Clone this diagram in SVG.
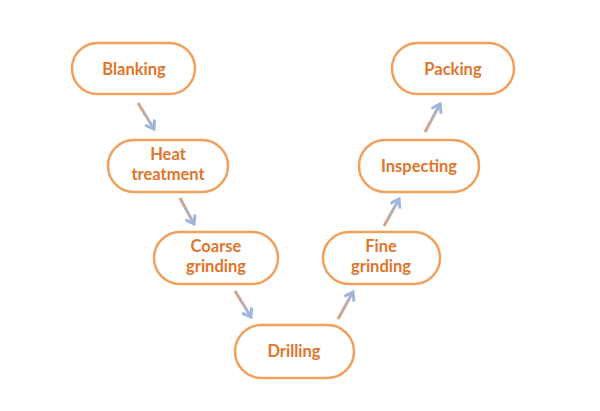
<svg xmlns="http://www.w3.org/2000/svg" width="600" height="411" viewBox="0 0 600 411">
<style>
.n rect{fill:#fff;stroke:#F0A05A;stroke-width:2.5}
.n text{font-family:Lato,"Open Sans","Liberation Sans",sans-serif;font-weight:bold;font-size:16.5px;fill:#E0742A;text-anchor:middle}
.c path{fill:none;stroke-width:3}
.dn{stroke:url(#gdn)}
.up{stroke:url(#gup)}
</style>
<defs>
<linearGradient id="gdn" x1="0" y1="0" x2="1" y2="1"><stop offset="0" stop-color="#D9A27E"/><stop offset="1" stop-color="#9DB7DC"/></linearGradient>
<linearGradient id="gup" x1="0" y1="1" x2="1" y2="0"><stop offset="0" stop-color="#D9A27E"/><stop offset="1" stop-color="#9DB7DC"/></linearGradient>
<marker id="ah" markerUnits="userSpaceOnUse" markerWidth="14" markerHeight="14" refX="9" refY="6" orient="auto"><path d="M1,0.5 L9,6 L1,11.5" fill="none" stroke="#9DB7DC" stroke-width="3" stroke-linejoin="miter"/></marker>
</defs>
<rect width="600" height="411" fill="#fff"/>
<g class="c" id="connectors">
<path class="dn" d="M138,103 L154,129" marker-end="url(#ah)"/>
<path class="dn" d="M180,198 L194,224" marker-end="url(#ah)"/>
<path class="dn" d="M235,291 L251,317" marker-end="url(#ah)"/>
<path class="up" d="M338,319 L353,292" marker-end="url(#ah)"/>
<path class="up" d="M384,226 L399,199" marker-end="url(#ah)"/>
<path class="up" d="M425,132 L440,104" marker-end="url(#ah)"/>
</g>
<g class="n" id="blanking"><rect x="72" y="43" width="123" height="51" rx="25.5"/><text x="134" y="75">Blanking</text></g>
<g class="n" id="heat"><rect x="108" y="140" width="120" height="52" rx="26"/><text x="168" y="160">Heat</text><text x="168" y="180">treatment</text></g>
<g class="n" id="coarse"><rect x="154" y="232" width="124" height="52" rx="26"/><text x="216" y="252">Coarse</text><text x="216" y="272">grinding</text></g>
<g class="n" id="drilling"><rect x="235" y="325" width="119" height="53" rx="26.5"/><text x="294" y="357">Drilling</text></g>
<g class="n" id="fine"><rect x="323" y="232" width="117" height="52" rx="26"/><text x="381" y="252">Fine</text><text x="381" y="272">grinding</text></g>
<g class="n" id="inspecting"><rect x="359" y="140" width="120" height="52" rx="26"/><text x="419" y="172">Inspecting</text></g>
<g class="n" id="packing"><rect x="392" y="43" width="122" height="51" rx="25.5"/><text x="453" y="75">Packing</text></g>
</svg>
